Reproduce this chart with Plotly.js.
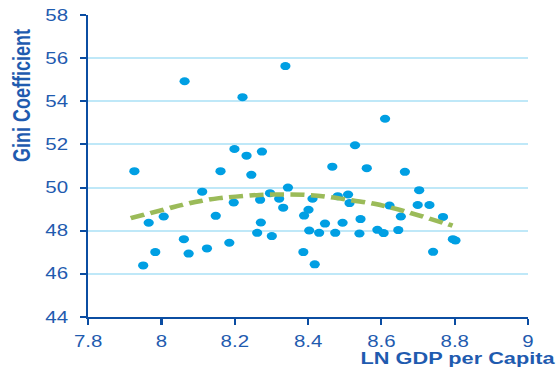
<!DOCTYPE html>
<html>
<head>
<meta charset="utf-8">
<script src="https://cdn.plot.ly/plotly-3.0.1.min.js"></script>
<style>
  html, body { margin: 0; padding: 0; background: #ffffff; overflow: hidden; }
  /* the chart is laid out narrow and widened horizontally */
  #chart { width: 438px; height: 371px; transform: scaleX(1.2785); transform-origin: 0 0; }
</style>
</head>
<body>
<div id="chart"></div>
<script>
// Log GDP per capita and Gini coefficient for each observation
var lnGdp = [
  7.926, 7.950, 7.965, 7.983, 8.006, 8.061, 8.063, 8.074, 8.111, 8.124,
  8.148, 8.161, 8.185, 8.197, 8.199, 8.221, 8.232, 8.245, 8.261, 8.269,
  8.271, 8.274, 8.296, 8.301, 8.321, 8.332, 8.338, 8.345, 8.387, 8.389,
  8.401, 8.403, 8.412, 8.418, 8.430, 8.446, 8.466, 8.474, 8.481, 8.494,
  8.509, 8.513, 8.528, 8.540, 8.543, 8.560, 8.589, 8.606, 8.610, 8.622,
  8.646, 8.653, 8.664, 8.699, 8.703, 8.731, 8.741, 8.768, 8.795, 8.802
];
var gini = [
  50.76, 46.39, 48.37, 47.01, 48.66, 47.61, 54.93, 46.94, 49.81, 47.18,
  48.69, 50.76, 47.44, 49.31, 51.79, 54.19, 51.48, 50.59, 47.90, 49.43,
  48.38, 51.67, 49.74, 47.75, 49.48, 49.07, 55.63, 50.00, 47.01, 48.70,
  48.97, 48.01, 49.48, 46.44, 47.90, 48.33, 50.97, 47.90, 49.60, 48.37,
  49.68, 49.28, 51.96, 47.87, 48.54, 50.90, 48.04, 47.89, 53.19, 49.17,
  48.03, 48.66, 50.73, 49.19, 49.88, 49.19, 47.02, 48.64, 47.61, 47.55
];

// Quadratic trend line, sampled along its length
var trendX = [7.916, 7.993, 8.057, 8.107, 8.157, 8.203, 8.267, 8.330, 8.394, 8.453, 8.522, 8.581, 8.640, 8.704, 8.777, 8.794];
var trendY = [48.58, 48.92, 49.20, 49.38, 49.51, 49.58, 49.66, 49.68, 49.66, 49.57, 49.40, 49.25, 49.01, 48.70, 48.32, 48.24];

// Axis ticks
var xTickVals = [7.8, 8.0, 8.2, 8.4, 8.6, 8.8, 9.0];
var xTickLabels = ['7.8', '8', '8.2', '8.4', '8.6', '8.8', '9'];
var yTickVals = [44, 46, 48, 50, 52, 54, 56, 58];
var yTickLabels = ['44', '46', '48', '50', '52', '54', '56', '58'];

var axisBlue = '#0B4DA2';
var textBlue = '#1F5BAF';
var font = 'Arial, "Liberation Sans", sans-serif';

var traces = [
  {
    x: lnGdp, y: gini,
    type: 'scatter', mode: 'markers',
    marker: { color: '#009FE3', size: 8, line: { width: 0 } },
    hoverinfo: 'skip', showlegend: false
  },
  {
    x: trendX, y: trendY,
    type: 'scatter', mode: 'lines',
    line: { color: '#9BBB59', width: 4.5, dash: '11px,5px', shape: 'spline' },
    hoverinfo: 'skip', showlegend: false
  }
];

var layout = {
  width: 438, height: 371,
  margin: { l: 69, r: 25, t: 15, b: 54 },
  paper_bgcolor: '#ffffff', plot_bgcolor: '#ffffff',
  font: { family: font, color: textBlue, size: 16 },
  xaxis: {
    range: [7.8, 9.0], tickmode: 'array', tickvals: xTickVals, ticktext: xTickLabels,
    showgrid: false, zeroline: false,
    showline: true, linecolor: axisBlue, linewidth: 2,
    ticks: 'outside', ticklen: 6, tickwidth: 1.6, tickcolor: axisBlue,
    ticklabelstandoff: 3,
    tickfont: { family: font, size: 16, color: textBlue },
    automargin: false, fixedrange: true
  },
  yaxis: {
    range: [44, 58], tickmode: 'array', tickvals: yTickVals, ticktext: yTickLabels,
    showgrid: true, gridcolor: '#BFE8F8', gridwidth: 2, zeroline: false,
    showline: true, linecolor: axisBlue, linewidth: 1.6,
    ticks: 'outside', ticklen: 5, tickwidth: 2, tickcolor: axisBlue,
    ticklabelstandoff: 6,
    tickfont: { family: font, size: 16, color: textBlue },
    automargin: false, fixedrange: true
  },
  annotations: [
    {
      text: '<b>Gini Coefficient</b>', textangle: -90,
      xref: 'paper', yref: 'paper', x: -0.151, y: 0.732,
      xanchor: 'center', yanchor: 'middle', showarrow: false,
      font: { family: font, size: 18, color: textBlue }
    },
    {
      text: '<b>LN GDP per Capita</b>',
      xref: 'paper', yref: 'paper', x: 1.0655, y: -0.138,
      xanchor: 'right', yanchor: 'middle', showarrow: false,
      font: { family: font, size: 17, color: textBlue }
    }
  ]
};

Plotly.newPlot('chart', traces, layout, { displayModeBar: false, staticPlot: true });
</script>
</body>
</html>
